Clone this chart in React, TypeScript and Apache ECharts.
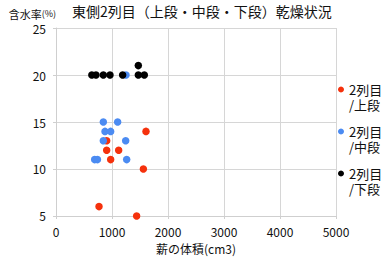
import React, { useEffect, useRef } from "react";
import * as echarts from "echarts";

const titleText = "東側2列目（上段・中段・下段）乾燥状況";
const xName = "薪の体積(cm3)";
const seriesNames = ["2列目/上段", "2列目/中段", "2列目/下段"];
const seriesColors = ["#f5310c", "#4b8bf2", "#000000"];

const upper: number[][] = [
  [905, 13], [1607, 14], [905, 12], [1119, 12], [976, 11], [1560, 10], [768, 6], [1440, 5],
];
const middle: number[][] = [
  [845, 15], [1101, 15], [875, 14], [976, 14], [845, 13], [1244, 13], [690, 11], [740, 11], [1262, 11], [1250, 20],
];
const lower: number[][] = [
  [640, 20], [714, 20], [845, 20], [964, 20], [1190, 20], [1470, 20], [1577, 20], [1470, 21],
];
const seriesData = [upper, middle, lower];

const FONT = "'Noto Sans CJK JP', 'Noto Sans', sans-serif";

export default function App() {
  const ref = useRef<HTMLDivElement>(null);
  useEffect(() => {
    if (!ref.current) return;
    const chart = echarts.init(ref.current, null, { renderer: "svg" });
    chart.setOption({
      animation: false,
      textStyle: { fontFamily: FONT },
      title: {
        text: titleText,
        left: 72,
        top: 4,
        padding: 0,
        textStyle: { fontSize: 14, fontWeight: "normal", color: "#111", fontFamily: FONT },
      },
      legend: {
        orient: "vertical",
        left: 338,
        top: 67,
        padding: 0,
        itemGap: -3,
        itemWidth: 6,
        itemHeight: 6,
        icon: "circle",
        data: seriesNames,
        formatter: (n: string) => " \n" + n.replace("/", "\n/"),
        textStyle: {
          fontSize: 13,
          lineHeight: 15,
          color: "#111",
          fontFamily: FONT,
        },
      },
      grid: { left: 56, right: 50, top: 28, bottom: 43, containLabel: false },
      xAxis: {
        type: "value",
        min: 0,
        max: 5000,
        interval: 1000,
        name: xName,
        nameLocation: "middle",
        nameGap: 26,
        nameTextStyle: { fontSize: 12, color: "#111", fontFamily: FONT },
        axisLine: { show: true, lineStyle: { color: "#cfcfcf" } },
        axisTick: { show: true, length: 3, lineStyle: { color: "#cfcfcf" } },
        axisLabel: { fontSize: 12, color: "#111", margin: 9, formatter: (v: number) => String(v) },
        splitLine: { show: true, lineStyle: { color: "#d6d6d6" } },
      },
      yAxis: {
        type: "value",
        min: 5,
        max: 25,
        interval: 5,
        name: "{a|含水率}{b|(%)}",
        nameLocation: "end",
        nameGap: 9,
        nameTextStyle: {
          align: "right",
          rich: {
            a: { fontSize: 11, color: "#111", fontFamily: FONT },
            b: { fontSize: 9, color: "#111", fontFamily: FONT },
          },
        },
        axisLine: { show: true, lineStyle: { color: "#cfcfcf" } },
        axisTick: { show: true, length: 3, lineStyle: { color: "#cfcfcf" } },
        axisLabel: { fontSize: 12, color: "#111", margin: 10 },
        splitLine: { show: true, lineStyle: { color: "#d6d6d6" } },
      },
      series: seriesNames.map((name, i) => ({
        name,
        type: "scatter",
        data: seriesData[i],
        symbol: "circle",
        symbolSize: 7.5,
        itemStyle: { color: seriesColors[i], opacity: 1 },
        z: 2 + i,
      })),
    });
    return () => chart.dispose();
  }, []);
  return <div ref={ref} style={{ width: 386, height: 259, position: "absolute", left: 0, top: 0 }} />;
}
